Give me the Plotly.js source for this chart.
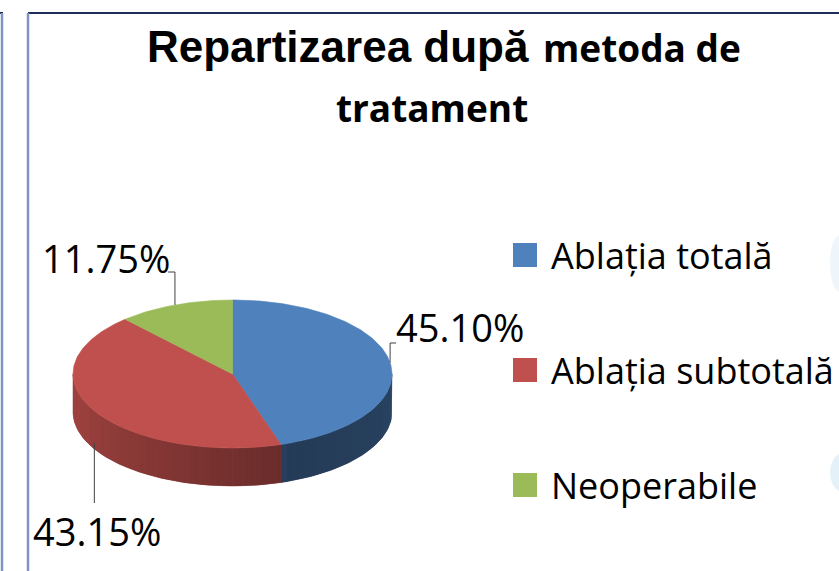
<!DOCTYPE html>
<html>
<head>
<meta charset="utf-8">
<script src="https://cdn.plot.ly/plotly-3.0.1.min.js"></script>
<style>html,body{margin:0;padding:0;background:#fff;}#chart{width:839px;height:571px;}</style>
</head>
<body>
<div id="chart"></div>
<script>
// ---- data ----
const labels = ['Ablația totală', 'Ablația subtotală', 'Neoperabile'];
const values = [45.10, 43.15, 11.75];
const colors = ['#4F81BD', '#C0504D', '#9BBB59'];
const titleMain = 'Repartizarea după';
const titleSub = 'metoda de';
const titleLine2 = 'tratament';

// ---- geometry (layout only) ----
const W = 839, H = 571;
const CX = 232.5, CY = 374, RX = 159.5, RY = 74, DEPTH = 38;
const START = 90; // 12 o'clock, clockwise
const FONT = 'Open Sans, Noto Sans, sans-serif';

function pt(tDeg, dy) {
  const r = tDeg * Math.PI / 180;
  return [CX + RX * Math.cos(r), CY - RY * Math.sin(r) + (dy || 0)];
}
function norm(t) { return ((t % 360) + 360) % 360; }
function hexToRgb(h) { return [parseInt(h.slice(1,3),16), parseInt(h.slice(3,5),16), parseInt(h.slice(5,7),16)]; }
function shade(hex, f) { const c = hexToRgb(hex); return 'rgb(' + c.map(v => Math.round(v * f)).join(',') + ')'; }
const shadeStops = [[180, 0.88], [230, 0.72], [287, 0.55], [290, 0.46], [340, 0.5], [360, 0.56]];
function shadeFactor(m) {
  for (let i = 1; i < shadeStops.length; i++) {
    if (m <= shadeStops[i][0]) {
      const a = shadeStops[i-1], b = shadeStops[i];
      return a[1] + (b[1] - a[1]) * (m - a[0]) / (b[0] - a[0]);
    }
  }
  return shadeStops[shadeStops.length - 1][1];
}

const total = values.reduce((s, v) => s + v, 0);
const slices = [];
let cur = START;
values.forEach((v, i) => {
  const span = v / total * 360;
  slices.push({ i: i, hi: cur, lo: cur - span, mid: cur - span / 2 });
  cur -= span;
});

function wallPoly(u, v, steps) {
  const xs = [], ys = [];
  for (let q = 0; q <= steps; q++) { const p = pt(u + (v - u) * q / steps); xs.push(p[0]); ys.push(p[1]); }
  for (let q = steps; q >= 0; q--) { const p = pt(u + (v - u) * q / steps, DEPTH); xs.push(p[0]); ys.push(p[1]); }
  xs.push(xs[0]); ys.push(ys[0]);
  return [xs, ys];
}

const baseTraces = [], stripTraces = [];
// side walls (front half): solid base per slice + lighting strips on top
slices.forEach(s => {
  const bps = [s.lo, s.hi];
  for (let k = Math.ceil(s.lo / 180); k * 180 < s.hi; k++) bps.push(k * 180);
  const coarse = Array.from(new Set(bps.map(b => +b.toFixed(6)))).sort((a, b) => a - b);
  for (let j = 0; j < coarse.length - 1; j++) {
    const u = coarse[j], v = coarse[j + 1];
    const m = norm((u + v) / 2);
    if (m <= 180 || m >= 360) continue;
    const pg = wallPoly(u, v, Math.max(4, Math.ceil(v - u)));
    const col = shade(colors[s.i], shadeFactor(m));
    baseTraces.push({ type: 'scatter', mode: 'lines', x: pg[0], y: pg[1], fill: 'toself', fillcolor: col,
      line: { color: col, width: 0.5 }, hoverinfo: 'skip', showlegend: false });
  }
  for (let t = Math.ceil(s.lo / 2) * 2; t < s.hi; t += 2) bps.push(t);
  const uniq = Array.from(new Set(bps.map(b => +b.toFixed(6)))).sort((a, b) => a - b);
  for (let j = 0; j < uniq.length - 1; j++) {
    const u = uniq[j], v = uniq[j + 1];
    if (v - u < 1e-6) continue;
    const m = norm((u + v) / 2);
    if (m <= 180 || m >= 360) continue;
    const pg = wallPoly(u, v, 2);
    const col = shade(colors[s.i], shadeFactor(m));
    stripTraces.push({ type: 'scatter', mode: 'lines', x: pg[0], y: pg[1], fill: 'toself', fillcolor: col,
      line: { width: 0 }, hoverinfo: 'skip', showlegend: false });
  }
});
const traces = baseTraces.concat(stripTraces);
// top faces
slices.forEach(s => {
  const xs = [CX], ys = [CY];
  const n = Math.max(4, Math.ceil((s.hi - s.lo)));
  for (let q = 0; q <= n; q++) { const p = pt(s.hi - (s.hi - s.lo) * q / n); xs.push(p[0]); ys.push(p[1]); }
  xs.push(CX); ys.push(CY);
  traces.push({ type: 'scatter', mode: 'lines', x: xs, y: ys, fill: 'toself', fillcolor: colors[s.i],
    line: { color: colors[s.i], width: 0.6 }, hoverinfo: 'text', text: labels[s.i], showlegend: false });
});

// data labels + leader lines
const labelPos = [ { x: 460, y: 327, elbowY: 343, stub: 6 },   // blue
                   { x: 97,  y: 531, elbowY: 503, stub: 0 },   // red
                   { x: 106, y: 258, elbowY: 272, stub: -7 } ]; // green
const annotations = [];
slices.forEach(s => {
  const m = norm(s.mid);
  const front = m > 180 && m < 360;
  const a = pt(s.mid, front ? DEPTH - 6 : 0);
  const lp = labelPos[s.i];
  const lx = [a[0], a[0]], ly = [a[1], lp.elbowY];
  if (lp.stub) { lx.push(a[0] + lp.stub); ly.push(lp.elbowY); }
  traces.push({ type: 'scatter', mode: 'lines', x: lx, y: ly, line: { color: '#404040', width: 1 },
    hoverinfo: 'skip', showlegend: false });
  annotations.push({ x: lp.x, y: lp.y, xref: 'x', yref: 'y', showarrow: false,
    text: values[s.i].toFixed(2) + '%', font: { family: FONT, size: 38, color: '#000' },
    xanchor: 'center', yanchor: 'middle' });
});

// legend (manual)
const legX = 525, legY0 = 255, legDY = 115;
traces.push({ type: 'scatter', mode: 'markers', x: labels.map(() => legX), y: labels.map((l, i) => legY0 + i * legDY),
  marker: { symbol: 'square', size: 24, color: colors, line: { width: 0 } }, hoverinfo: 'skip', showlegend: false });
labels.forEach((l, i) => {
  annotations.push({ x: 549, y: legY0 + i * legDY, xref: 'x', yref: 'y', showarrow: false, text: l,
    font: { family: FONT, size: 36, color: '#000' }, xanchor: 'left', yanchor: 'middle' });
});

// title
annotations.push({ x: 531, y: 46, xref: 'x', yref: 'y', showarrow: false, text: '<b>' + titleMain + '</b>',
  font: { family: 'Liberation Sans, Arial, sans-serif', size: 44, color: '#000' }, xanchor: 'right', yanchor: 'middle' });
annotations.push({ x: 541, y: 47, xref: 'x', yref: 'y', showarrow: false, text: '<b>' + titleSub + '</b>',
  font: { family: FONT, size: 37, color: '#000' }, xanchor: 'left', yanchor: 'middle' });
annotations.push({ x: 432, y: 107, xref: 'x', yref: 'y', showarrow: false, text: '<b>' + titleLine2 + '</b>',
  font: { family: FONT, size: 37, color: '#000' }, xanchor: 'center', yanchor: 'middle' });

const shapes = [
  { type: 'line', xref: 'x', yref: 'y', x0: 28, y0: 13, x1: 839, y1: 13, line: { color: '#1F2D5A', width: 2 } },
  { type: 'line', xref: 'x', yref: 'y', x0: 28, y0: 13, x1: 28, y1: 571, line: { color: '#7F93C6', width: 2.5 } },
  { type: 'line', xref: 'x', yref: 'y', x0: 0, y0: 13, x1: 3, y1: 13, line: { color: '#1F2D5A', width: 2 } },
  { type: 'line', xref: 'x', yref: 'y', x0: 2, y0: 13, x1: 2, y1: 571, line: { color: '#7F93C6', width: 2.5 } },
  { type: 'circle', xref: 'x', yref: 'y', x0: 830, y0: 235, x1: 850, y1: 292, fillcolor: 'rgba(190,220,240,0.25)', line: { width: 0 } },
  { type: 'circle', xref: 'x', yref: 'y', x0: 830, y0: 452, x1: 860, y1: 493, fillcolor: 'rgba(190,220,240,0.4)', line: { width: 0 } }
];

const layout = {
  width: W, height: H,
  margin: { l: 0, r: 0, t: 0, b: 0 },
  paper_bgcolor: '#fff', plot_bgcolor: '#fff',
  xaxis: { range: [0, W], visible: false, fixedrange: true },
  yaxis: { range: [H, 0], visible: false, fixedrange: true },
  showlegend: false,
  annotations: annotations,
  shapes: shapes
};
Plotly.newPlot('chart', traces, layout, { displayModeBar: false, staticPlot: true });
</script>
</body>
</html>
